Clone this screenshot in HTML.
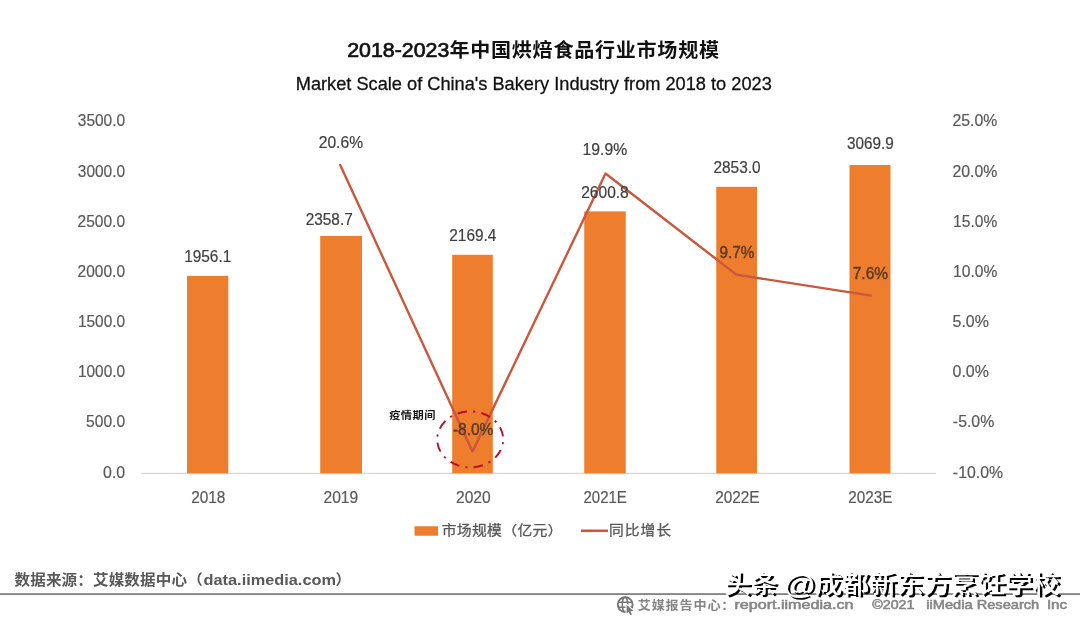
<!DOCTYPE html>
<html lang="zh-CN">
<head>
<meta charset="utf-8">
<title>2018-2023年中国烘焙食品行业市场规模</title>
<style>
html,body{margin:0;padding:0;background:#fff;}
body{width:1080px;height:617px;overflow:hidden;position:relative;}
svg{position:absolute;left:0;top:0;display:block;}
text{font-family:"Liberation Sans","Noto Sans CJK SC",sans-serif;white-space:pre;}
.title{fill:#111}
.subtitle{font-size:19.2px;font-weight:400;fill:#111;stroke:#111;stroke-width:0.3px}
.yl{font-size:16.4px;font-weight:400;fill:#595959;stroke:#595959;stroke-width:0.2px}
.yr{font-size:16.4px;font-weight:400;fill:#595959;stroke:#595959;stroke-width:0.2px}
.xl{font-size:16.4px;font-weight:400;fill:#595959;stroke:#595959;stroke-width:0.2px}
.bl{font-size:16.4px;font-weight:400;fill:#404040;stroke:#404040;stroke-width:0.2px}
.ll{font-size:16.4px;font-weight:400;fill:#404040;stroke:#404040;stroke-width:0.2px}
.ll2{font-size:15.6px;font-weight:400;fill:#573a22;stroke:#573a22;stroke-width:0.4px}
.note{font-size:10.4px;font-weight:700;fill:#1a1a1a}
.lg{font-size:13.1px;font-weight:400;fill:#595959;stroke:#595959;stroke-width:0.3px}
.src{font-weight:700;fill:#595959}
.ft{fill:#858585}
</style>
</head>
<body>
<svg width="1080" height="617" viewBox="0 0 1080 617" role="img" aria-label="2018-2023年中国烘焙食品行业市场规模">
<rect width="1080" height="617" fill="#fff"/>
<g class="chart">
<line class="axis" x1="141.3" y1="473.5" x2="936" y2="473.5" stroke="#d9d9d9" stroke-width="1.3"/>
<rect class="bar" x="187" y="275.9" width="41.30" height="197.40" fill="#EE7D2E"/>
<rect class="bar" x="320.2" y="235.9" width="41.80" height="237.40" fill="#EE7D2E"/>
<rect class="bar" x="452.2" y="254.8" width="40.60" height="218.50" fill="#EE7D2E"/>
<rect class="bar" x="584.25" y="211.4" width="41.50" height="261.90" fill="#EE7D2E"/>
<rect class="bar" x="716.25" y="186.8" width="40.75" height="286.50" fill="#EE7D2E"/>
<rect class="bar" x="849.5" y="165.0" width="41.00" height="308.30" fill="#EE7D2E"/>
<polyline class="growth" fill="none" stroke="#CB573C" stroke-width="2.4" stroke-linejoin="round" stroke-linecap="round" points="340.2,165 472.5,451.5 605.5,173.5 736.3,274.6 871,295.6"/>
<ellipse class="mark" cx="470.2" cy="439.4" rx="33" ry="28" fill="none" stroke="#B8102A" stroke-width="1.9" stroke-dasharray="9.5 6.2 2.1 6.2" stroke-dashoffset="13"/>
<rect class="key" x="414.5" y="526.25" width="23.5" height="9.5" fill="#EE7D2E"/>
<line class="key" x1="581" y1="530.8" x2="608" y2="530.8" stroke="#CB573C" stroke-width="2.6"/>
<rect class="rule" x="0" y="593.2" width="1080" height="1.8" fill="#808080"/>
</g>
<g class="labels">
<text class="title" transform="translate(347.23 57.00) scale(1.0174 1)" font-size="21.0" font-weight="400" stroke="#111" stroke-width="0.7">2018-2023</text>
<text class="title" transform="translate(449.40 56.90) scale(1.0500 1)" x="0.00 19.81 39.61 59.42 79.22 99.03 118.83 138.64 158.44 178.25 198.05 217.86 237.67" font-size="19.1" font-weight="700">年中国烘焙食品行业市场规模</text>
<text class="subtitle" transform="translate(295.74 90.00) scale(0.9488 1)">Market Scale of China's Bakery Industry from 2018 to 2023</text>
<text class="yl" transform="translate(77.78 126.10) scale(0.9433 1)">3500.0</text>
<text class="yl" transform="translate(77.78 177.30) scale(0.9433 1)">3000.0</text>
<text class="yl" transform="translate(77.62 226.90) scale(0.9465 1)">2500.0</text>
<text class="yl" transform="translate(77.62 277.10) scale(0.9465 1)">2000.0</text>
<text class="yl" transform="translate(77.97 326.90) scale(0.9395 1)">1500.0</text>
<text class="yl" transform="translate(77.97 377.40) scale(0.9395 1)">1000.0</text>
<text class="yl" transform="translate(86.08 427.40) scale(0.9524 1)">500.0</text>
<text class="yl" transform="translate(103.06 478.30) scale(0.9682 1)">0.0</text>
<text class="yr" transform="translate(952.41 126.10) scale(0.9667 1)">25.0%</text>
<text class="yr" transform="translate(952.41 177.30) scale(0.9667 1)">20.0%</text>
<text class="yr" transform="translate(953.05 226.90) scale(0.9527 1)">15.0%</text>
<text class="yr" transform="translate(953.05 277.10) scale(0.9527 1)">10.0%</text>
<text class="yr" transform="translate(952.56 326.90) scale(0.9728 1)">5.0%</text>
<text class="yr" transform="translate(952.56 377.40) scale(0.9728 1)">0.0%</text>
<text class="yr" transform="translate(952.87 427.40) scale(0.9650 1)">-5.0%</text>
<text class="yr" transform="translate(952.87 478.30) scale(0.9650 1)">-10.0%</text>
<text class="xl" transform="translate(191.13 502.50) scale(0.9418 1)">2018</text>
<text class="xl" transform="translate(323.47 502.50) scale(0.9518 1)">2019</text>
<text class="xl" transform="translate(455.97 502.50) scale(0.9518 1)">2020</text>
<text class="xl" transform="translate(583.50 502.50) scale(0.9146 1)">2021E</text>
<text class="xl" transform="translate(715.23 502.50) scale(0.9364 1)">2022E</text>
<text class="xl" transform="translate(848.24 502.50) scale(0.9299 1)">2023E</text>
<text class="bl" transform="translate(184.17 262.00) scale(0.9386 1)">1956.1</text>
<text class="bl" transform="translate(305.73 224.70) scale(0.9373 1)">2358.7</text>
<text class="bl" transform="translate(449.23 240.90) scale(0.9412 1)">2169.4</text>
<text class="bl" transform="translate(581.22 198.00) scale(0.9476 1)">2600.8</text>
<text class="bl" transform="translate(713.48 172.80) scale(0.9393 1)">2853.0</text>
<text class="bl" transform="translate(846.89 149.30) scale(0.9341 1)">3069.9</text>
<text class="ll" transform="translate(318.72 147.50) scale(0.9534 1)">20.6%</text>
<text class="ll" transform="translate(582.49 154.80) scale(0.9640 1)">19.9%</text>
<text class="ll2" transform="translate(719.43 258.00) scale(0.9835 1)">9.7%</text>
<text class="ll2" transform="translate(852.72 278.70) scale(0.9952 1)">7.6%</text>
<text class="ll2" transform="translate(452.88 435.00) scale(0.9943 1)">-8.0%</text>
<text class="note" transform="translate(389.16 418.60) scale(1.0800 1)" x="0.00 10.80 21.59 32.39">疫情期间</text>
<text class="lg" transform="translate(441.66 534.50) scale(1.1300 1)" x="0.00 13.41 26.82 40.23 53.65 67.06 80.47 93.88">市场规模（亿元）</text>
<text class="lg" transform="translate(608.97 534.50) scale(1.1300 1)" x="0.00 13.93 27.86 41.79">同比增长</text>
<text class="src" transform="translate(14.53 585.00) scale(1.0800 1)" x="0.00 14.53 29.06 43.59 58.12 72.65 87.18 101.71 116.24 130.77 145.30 159.83" font-size="14.4">数据来源：艾媒数据中心（</text>
<text class="src" transform="translate(203.55 585.20) scale(1.0673 1)" font-size="15.3">data.iimedia.com</text>
<text class="src" transform="translate(335.52 585.00) scale(1.0800 1)" x="0.00" font-size="14.4">）</text>
<text class="ft" transform="translate(637.78 609.60) scale(1.0800 1)" x="0.00 12.89 25.78 38.68 51.57 64.46 77.35" font-size="12.1" font-weight="700">艾媒报告中心：</text>
<text class="ft" transform="translate(734.47 608.90) scale(1.2580 1)" font-size="12.8" font-weight="400" stroke="#858585" stroke-width="0.55">report.iimedia.cn</text>
<text class="ft" transform="translate(872.32 608.90) scale(1.1083 1)" font-size="12.8" font-weight="400" stroke="#858585" stroke-width="0.55">©2021</text>
<text class="ft" transform="translate(926.28 608.90) scale(1.1425 1)" font-size="12.8" font-weight="400" stroke="#858585" stroke-width="0.55">iiMedia Research</text>
<text class="ft" transform="translate(1046.94 608.90) scale(1.1783 1)" font-size="12.8" font-weight="400" stroke="#858585" stroke-width="0.55">Inc</text>
</g>
<g class="globe" fill="none" stroke="#757575" stroke-width="1.9">
<circle cx="625.2" cy="604.6" r="7.4"/>
<ellipse cx="625" cy="604.6" rx="2.7" ry="7.4" stroke-width="1.5"/>
<path d="M618.3 602.2H632.2M618.3 607.2H632.2" stroke-width="1.5"/>
<path d="M626.6 604.8L626.6 613.6L628.7 611.8L630.3 615.2L632 614.4L630.4 611.2L633.4 611Z" fill="#757575" stroke="#fff" stroke-width="2.2" stroke-linejoin="round" paint-order="stroke"/>
</g>
<g class="wm" font-weight="500" fill="#fff" style="text-shadow:2.3px 2.3px 0 #000">
<text transform="translate(724.27 593.00) scale(1.0702 1)" font-size="24.9">头条</text>
<text transform="translate(783.12 594.20) scale(1.1722 1)" font-size="27.5">@</text>
<text transform="translate(814.91 593.00) scale(1.0928 1)" font-size="24.9">成都新东方烹饪学校</text>
</g>
</svg>
</body>
</html>
